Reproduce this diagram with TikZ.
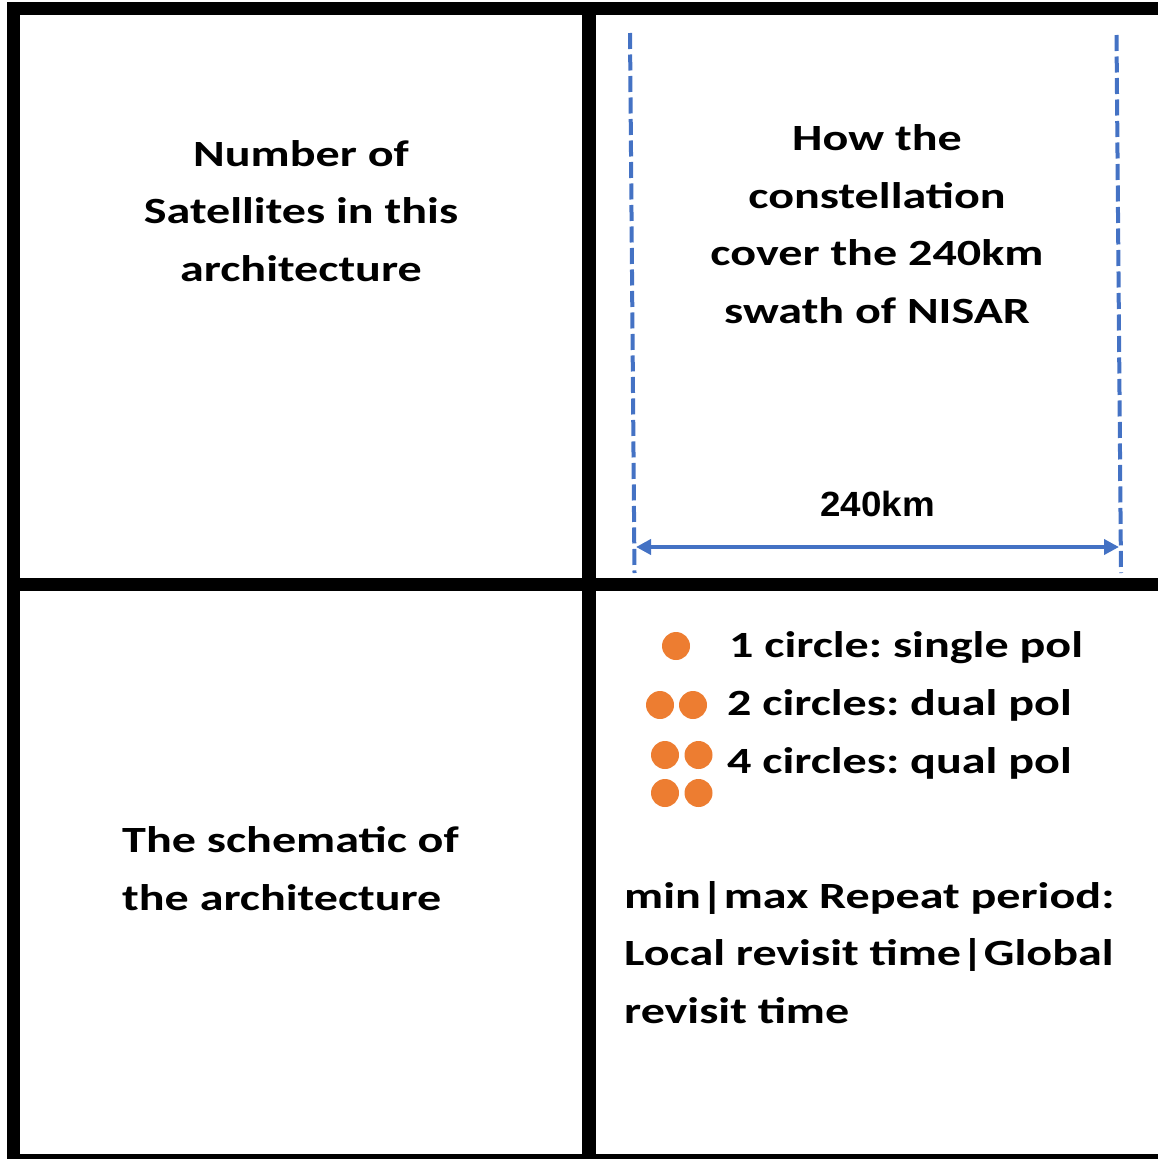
\documentclass[tikz,border=0pt]{standalone}
\usepackage{fontspec}
\setmainfont{Carlito}[FakeStretch=1.3]
\newfontfamily\arialfont{Liberation Sans}[FakeStretch=1.05]
\usetikzlibrary{arrows.meta}
\definecolor{swathblue}{HTML}{4472C4}
\definecolor{polorange}{HTML}{ED7D31}
\frenchspacing

\begin{document}
\begin{tikzpicture}[x=1pt,y=-1pt,
    cellline/.style={line width=13.5pt},
    bigtext/.style={font=\bfseries\fontsize{37}{57.5}\selectfont,inner sep=0pt},
    swathline/.style={swathblue,line width=4pt,dash pattern=on 16pt off 5.5pt},
    swathtip/.tip={Triangle[length=15pt,width=15pt]},
    poldot/.style={circle,fill=polorange,minimum size=28pt,inner sep=0pt}]
    \useasboundingbox (0,0) rectangle (1158,1159);
    % grid of four cells
    \draw[cellline] (13.5,8.5) rectangle (1166,1161);
    \draw[cellline] (589,8.5) -- (589,1161);
    \draw[cellline] (13.5,584.5) -- (1166,584.5);

    % cell texts
    \node[bigtext,align=center] (nsat) at (301,211) {Number of\\Satellites in this\\architecture};
    \node[bigtext,align=center] (howcover) at (877,224) {How the\\constellation\\cover the 240km\\swath of NISAR};
    \node[bigtext,align=left,anchor=base west] (schem) at (122,910) {The schematic of\\the architecture};

    % swath edges and width
    \coordinate (swathLtop) at (630,33);
    \coordinate (swathLbot) at (634.5,573);
    \coordinate (swathRtop) at (1116.5,35);
    \coordinate (swathRbot) at (1121,573);
    \coordinate (arrL) at (636,547);
    \coordinate (arrR) at (1119,547);
    \draw[swathline] (swathLtop) -- (swathLbot);
    \draw[swathline] (swathRtop) -- (swathRbot);
    \draw[swathblue,line width=4pt,swathtip-swathtip] (arrL) -- node[above=28pt,inner sep=0pt,font=\arialfont\bfseries\fontsize{35}{42}\selectfont,text=black] (swathw) {240km} (arrR);

    % polarisation legend
    \node[poldot] (one) at (676,646) {};
    \node[poldot] (twoa) at (660,705) {};
    \node[poldot] (twob) at (693,705) {};
    \node[poldot] (foura) at (665,755) {};
    \node[poldot] (fourb) at (698.5,755) {};
    \node[poldot] (fourc) at (665,793) {};
    \node[poldot] (fourd) at (698.5,793) {};
    \node[bigtext,anchor=base west] (single) at (729,657) {1 circle: single pol};
    \node[bigtext,anchor=base west] (dual) at (727,715) {2 circles: dual pol};
    \node[bigtext,anchor=base west] (qual) at (727,773) {4 circles: qual pol};
    \node[bigtext,align=left,anchor=base west] (repeat) at (624,1023) {min|max Repeat period:\\Local revisit time|Global\\revisit time};
\end{tikzpicture}
\end{document}
